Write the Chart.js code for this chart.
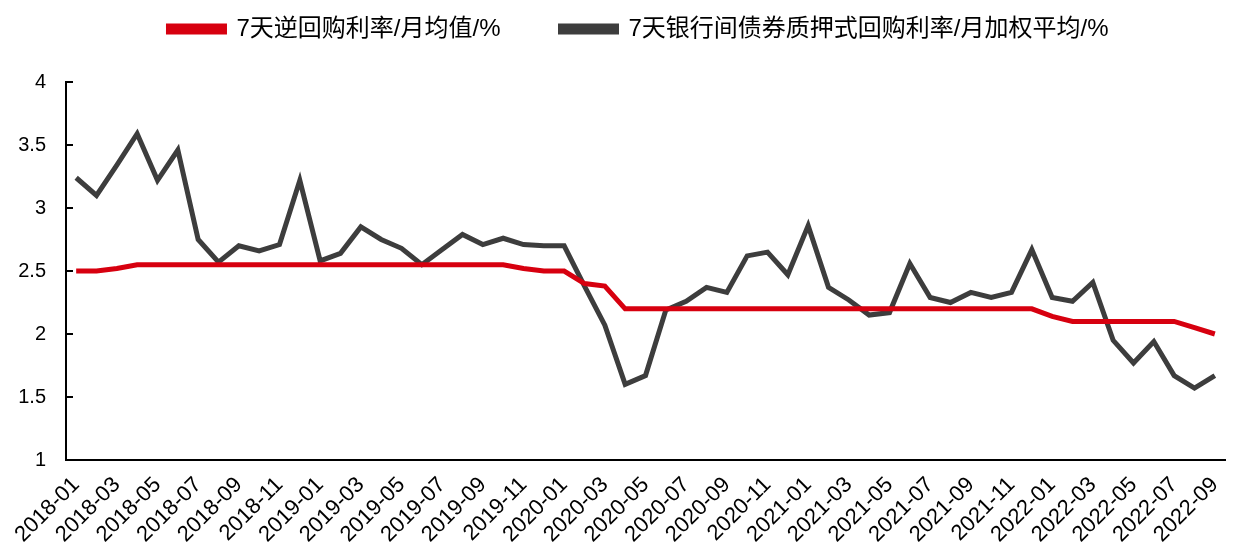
<!DOCTYPE html>
<html>
<head>
<meta charset="utf-8">
<script src="https://cdn.jsdelivr.net/npm/chart.js@4.4.0/dist/chart.umd.min.js"></script>
<style>
  html, body { margin: 0; padding: 0; background: #fff; }
  #wrap { width: 1242px; height: 552px; }
</style>
</head>
<body>
<div id="wrap"><canvas id="lineChart"></canvas></div>
<script>
// months 2018-01 .. 2022-09
const months = [
  '2018-01','2018-02','2018-03','2018-04','2018-05','2018-06','2018-07','2018-08','2018-09','2018-10','2018-11','2018-12',
  '2019-01','2019-02','2019-03','2019-04','2019-05','2019-06','2019-07','2019-08','2019-09','2019-10','2019-11','2019-12',
  '2020-01','2020-02','2020-03','2020-04','2020-05','2020-06','2020-07','2020-08','2020-09','2020-10','2020-11','2020-12',
  '2021-01','2021-02','2021-03','2021-04','2021-05','2021-06','2021-07','2021-08','2021-09','2021-10','2021-11','2021-12',
  '2022-01','2022-02','2022-03','2022-04','2022-05','2022-06','2022-07','2022-08','2022-09'
];

// 7天逆回购利率 (monthly avg)
const reverseRepo = [
  2.50, 2.50, 2.52, 2.55, 2.55, 2.55, 2.55, 2.55, 2.55, 2.55, 2.55, 2.55,
  2.55, 2.55, 2.55, 2.55, 2.55, 2.55, 2.55, 2.55, 2.55, 2.55, 2.52, 2.50,
  2.50, 2.40, 2.38, 2.20, 2.20, 2.20, 2.20, 2.20, 2.20, 2.20, 2.20, 2.20,
  2.20, 2.20, 2.20, 2.20, 2.20, 2.20, 2.20, 2.20, 2.20, 2.20, 2.20, 2.20,
  2.14, 2.10, 2.10, 2.10, 2.10, 2.10, 2.10, 2.05, 2.00
];

// 7天银行间债券质押式回购利率 (monthly weighted avg)
const interbankRepo = [
  3.24, 3.10, 3.34, 3.59, 3.22, 3.46, 2.75, 2.57, 2.70, 2.66, 2.71, 3.22,
  2.58, 2.64, 2.85, 2.75, 2.68, 2.55, 2.67, 2.79, 2.71, 2.76, 2.71, 2.70,
  2.70, 2.38, 2.07, 1.60, 1.67, 2.19, 2.26, 2.37, 2.33, 2.62, 2.65, 2.47,
  2.86, 2.37, 2.27, 2.15, 2.17, 2.56, 2.29, 2.25, 2.33, 2.29, 2.33, 2.67,
  2.29, 2.26, 2.41, 1.95, 1.77, 1.94, 1.67, 1.57, 1.67
];

const yTicks = [1, 1.5, 2, 2.5, 3, 3.5, 4];

const fontFamily = '"Liberation Sans", Arial, "Noto Sans CJK SC", sans-serif';

// short inward tick marks on the y axis
const innerTicks = {
  id: 'innerTicks',
  afterDraw(chart) {
    const y = chart.scales.y;
    const ctx = chart.ctx;
    ctx.save();
    ctx.strokeStyle = '#000';
    ctx.lineWidth = 2;
    yTicks.forEach(v => {
      const py = Math.round(y.getPixelForValue(v));
      ctx.beginPath();
      ctx.moveTo(y.right, py);
      ctx.lineTo(y.right + 7, py);
      ctx.stroke();
    });
    ctx.restore();
  }
};

// extra room under the legend, and nudge it a bit to the right
const legendSpace = {
  id: 'legendSpace',
  afterInit(chart) {
    const fit = chart.legend.fit;
    chart.legend.fit = function() {
      fit.call(this);
      this.height += 31;
    };
  },
  afterLayout(chart) {
    chart.legend.left += 52;
  }
};

new Chart(document.getElementById('lineChart').getContext('2d'), {
  type: 'line',
  data: {
    labels: months,
    datasets: [
      {
        label: '7天逆回购利率/月均值/%',
        data: reverseRepo,
        borderColor: '#d7000f',
        backgroundColor: '#d7000f',
        borderWidth: 5,
        pointRadius: 0,
        tension: 0
      },
      {
        label: '7天银行间债券质押式回购利率/月加权平均/%',
        data: interbankRepo,
        borderColor: '#3d3d3d',
        backgroundColor: '#3d3d3d',
        borderWidth: 5,
        pointRadius: 0,
        tension: 0
      }
    ]
  },
  options: {
    responsive: true,
    maintainAspectRatio: false,
    animation: false,
    layout: { padding: { top: -43, right: 17, left: 0, bottom: 0 } },
    plugins: {
      legend: {
        position: 'top',
        labels: {
          boxWidth: 56,
          boxHeight: 6,
          padding: 60,
          color: '#000',
          font: { family: fontFamily, size: 24 }
        }
      },
      tooltip: { enabled: false }
    },
    scales: {
      x: {
        offset: true,
        afterFit: axis => {
          axis.height = 92;
          axis.paddingLeft = 0;
          axis.paddingRight = 0;
        },
        grid: { display: false, drawTicks: false },
        border: { display: true, color: '#000', width: 2 },
        ticks: {
          autoSkip: false,
          maxRotation: 45,
          minRotation: 45,
          padding: 12,
          color: '#000',
          font: { family: fontFamily, size: 22 },
          callback: function(val, i) { return i % 2 === 0 ? months[i] : ''; }
        }
      },
      y: {
        min: 1,
        max: 4,
        afterBuildTicks: axis => { axis.ticks = yTicks.map(v => ({ value: v })); },
        afterFit: axis => { axis.width = 66; },
        grid: { display: false, drawTicks: false },
        border: { display: true, color: '#000', width: 2 },
        ticks: {
          padding: 20,
          color: '#000',
          font: { family: fontFamily, size: 20 },
          callback: v => String(v)
        }
      }
    }
  },
  plugins: [innerTicks, legendSpace]
});
</script>
</body>
</html>
